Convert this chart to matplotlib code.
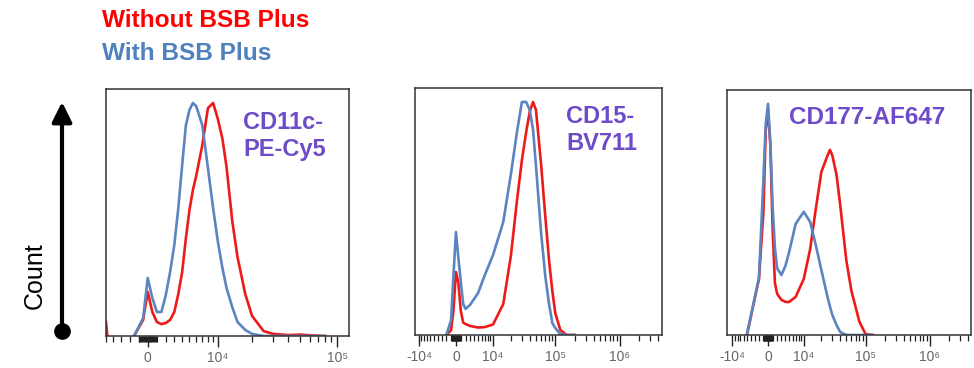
import numpy as np
import matplotlib
matplotlib.use("Agg")
import matplotlib.pyplot as plt

plt.rcParams['font.family'] = ['Liberation Sans', 'DejaVu Sans']

nan = np.nan

# ---- data (fluorescence intensity vs. count, % of mode) ----
p1_x = [-5000, -4800, -3000, -1500, -500, 0, 500, 1000, 1500, 2000,
        2500, 3000, 3500, 4000, 4500, 5000, 5500, 6000, 7000, 8000,
        9000, 10000, 11000, 12000, 13500, 15000, 17500, 20000, 25000, 30000,
        40000, 50000, 60000, 80000]
p1_without = [6.0, 0, nan, 0, 6.9, 18.9, 10.3, 6.0, 5.1, 5.6,
              6.9, 10.3, 18.0, 27.5, 42.0, 54.1, 62.6, 68.6, 81.9, 97.8,
              100, 93, 84.7, 72.5, 49.3, 33.9, 18, 8.6, 2.1, 0.9,
              0.4, 0.6, 0.3, 0]
p1_with = [nan, nan, nan, 0, 7.7, 24.9, 16.3, 10.3, 10.3, 17.6,
           27.5, 39.0, 54.9, 73.4, 90.5, 97.0, 100, 98.7, 90.5, 72.1,
           54.9, 40.3, 29.2, 20.6, 12.4, 6.0, 2.6, 0.9, 0, 0,
           0, 0, 0, 0]

p2_x = [-2000, -1000, -500, 0, 500, 1000, 1500, 2000, 3000, 5000,
        7000, 10000, 15000, 20000, 25000, 30000, 35000, 40000, 45000, 50000,
        60000, 70000, 80000, 90000, 100000, 120000, 150000, 200000]
p2_without = [0, 2.1, 10.7, 27, 22.3, 10.3, 5.3, 4.7, 3.9, 3.2,
              3.4, 4.5, 13.3, 34, 57.5, 75, 87, 96, 100, 96.5,
              73.4, 50.6, 32, 18.9, 9.4, 2.1, 0, 0]
p2_with = [0, 6.4, 26, 44.2, 33, 22.7, 13.3, 11.2, 12.9, 18.0,
           25.7, 34.3, 48.5, 69, 87, 100, 100, 96.5, 88, 72.5,
           44, 25, 13.3, 5.1, 3.0, 0.4, 0, 0]

p3_x = [-5000, -2000, -1000, -500, 0, 500, 1000, 1500, 2000, 3000,
        4000, 5000, 7000, 10000, 13000, 16000, 20000, 25000, 27500, 30000,
        35000, 40000, 50000, 60000, 80000, 100000, 130000]
p3_without = [0, 24.2, 53.3, 88.8, 97, 82, 45.5, 22.5, 17.8, 15.2,
              14.3, 14.3, 16.5, 24.2, 37.2, 53.7, 70.6, 77.5, 80.1, 77.7,
              69.3, 56.3, 32.2, 19.2, 5.8, 0.4, 0]
p3_with = [0.5, 24.7, 67.5, 91.4, 100, 83.1, 55.4, 37.7, 28.8, 26,
           29.9, 35.9, 48.1, 53.3, 48.9, 39.4, 28.1, 16.7, 12.3, 8.7,
           4.3, 1.3, 0, 0, 0, 0, 0]

markers = ["CD11c-\nPE-Cy5", "CD15-\nBV711", "CD177-AF647"]
series_names = ["Without BSB Plus", "With BSB Plus"]

ticks_a = [0, 1e4, 1e5]
labels_a = ["0", "10⁴", "10⁵"]
ticks_b = [-1e4, 0, 1e4, 1e5, 1e6]
labels_b = ["-10⁴", "0", "10⁴", "10⁵", "10⁶"]

# minor ticks: dense linear block around zero + log-style decades
minor = list(range(-1000, 1001, 100))
for d in [1e3, 1e4, 1e5, 1e6]:
    for k in range(2, 10):
        minor += [k * d, -k * d]

red = '#EE1A1A'
blue = '#5B84C0'
purple = '#6E4BC8'

W, H = 974, 368
fig = plt.figure(figsize=(W / 100, H / 100), dpi=100)

def fx(px):
    return px / W

def fy(py):
    return 1 - py / H

# panel boxes in pixels: left, top, right, bottom
boxes = [(106, 89, 349, 336), (415, 88, 662, 335), (727, 90, 971, 335)]
widths = [5800, 5700, 6000]
xlims = [(-5000, 125000), (-11700, 4.58e6), (-12450, 4.45e6)]
xs = [p1_x, p2_x, p3_x]
withouts = [p1_without, p2_without, p3_without]
withs = [p1_with, p2_with, p3_with]
ticks = [(ticks_a, labels_a), (ticks_b, labels_b), (ticks_b, labels_b)]

axes = []
for i, (l, t, r, b) in enumerate(boxes):
    ax = fig.add_axes([fx(l), fy(b), (r - l) / W, (b - t) / H])
    ax.set_xscale('asinh', linear_width=widths[i])
    ax.plot(xs[i], withouts[i], color=red, lw=1.9, solid_joinstyle='round')
    ax.plot(xs[i], withs[i], color=blue, lw=1.9, solid_joinstyle='round')
    ax.set_yticks([])
    ax.set_xticks(ticks[i][0])
    ax.set_xticklabels(ticks[i][1])
    ax.set_xticks(minor, minor=True)
    ax.set_xlim(*xlims[i])
    ax.set_ylim(0, 106)
    ax.tick_params(axis='x', which='major', length=8, width=1, color='#222222',
                   labelsize=10, labelcolor='#666666', pad=3)
    ax.tick_params(axis='x', which='minor', length=4.5, width=0.9, color='#222222')
    ax.xaxis.set_minor_formatter(plt.NullFormatter())
    for s in ax.spines.values():
        s.set_color('#333333')
        s.set_linewidth(1.1)
    axes.append(ax)

# marker labels
fig.text(fx(243), fy(111), markers[0], color=purple, fontsize=17,
         fontweight='bold', va='top', ha='left', linespacing=1.2)
fig.text(fx(566), fy(105), markers[1], color=purple, fontsize=17,
         fontweight='bold', va='top', ha='left', linespacing=1.2)
fig.text(fx(789), fy(106), markers[2], color=purple, fontsize=17.5,
         fontweight='bold', va='top', ha='left')

# legend-like titles
fig.text(fx(102), fy(27), series_names[0], color='#FF0000', fontsize=17.6,
         fontweight='bold', va='baseline', ha='left')
fig.text(fx(102), fy(60), series_names[1], color='#4F81BD', fontsize=17.6,
         fontweight='bold', va='baseline', ha='left')

# count arrow
ov = fig.add_axes([0, 0, 1, 1], zorder=-1)
ov.set_xlim(0, W)
ov.set_ylim(H, 0)
ov.axis('off')
ov.annotate('', xy=(62, 102), xytext=(62, 331),
            arrowprops=dict(arrowstyle='-|>,head_length=0.6,head_width=0.3',
                            lw=3, color='black', shrinkA=0, shrinkB=0,
                            mutation_scale=20))
ov.plot([62], [331], 'o', color='black', ms=11)
fig.text(fx(35), fy(276), "Count", rotation=90, fontsize=18,
         va='center', ha='center')

fig.savefig("out.png", dpi=100)
